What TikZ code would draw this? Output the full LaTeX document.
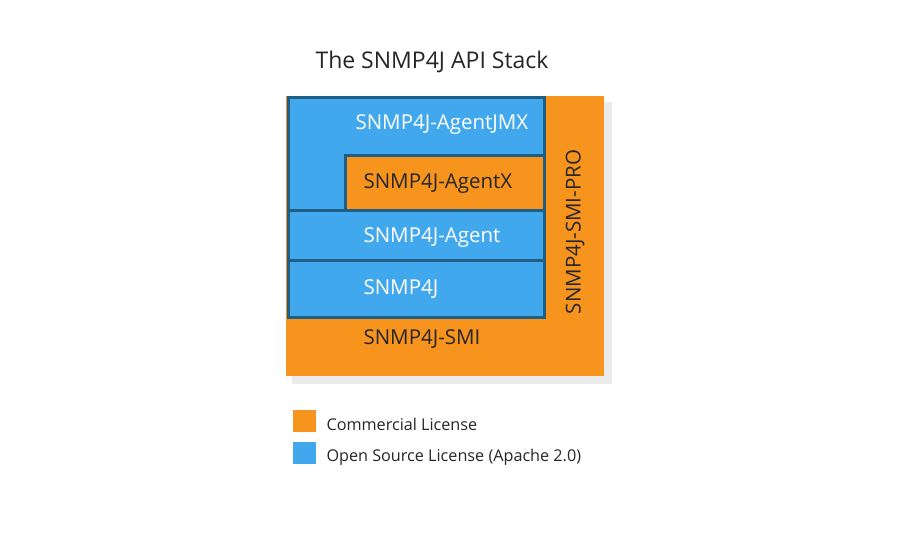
\documentclass[tikz,border=0pt]{standalone}
\usepackage{fontspec}
\setmainfont{Open Sans}
\definecolor{org}{HTML}{F7941D}
\definecolor{blu}{HTML}{42A8EE}
\definecolor{bdr}{HTML}{1F5F85}
\begin{document}
\begin{tikzpicture}[x=1pt,y=-1pt,
  bluebox/.style={fill=blu,draw=bdr,line width=3pt},
  wlab/.style={text=white,font=\fontsize{20.5}{24}\selectfont,anchor=west},
  klab/.style={text=black!85,font=\fontsize{20.5}{24}\selectfont,anchor=west},
  leg/.style={text=black!85,font=\fontsize{16.2}{19}\selectfont,anchor=west}]
\useasboundingbox (0,0) rectangle (900,534);
\fill[white] (0,0) rectangle (900,534);
\node[font=\fontsize{23}{27}\selectfont,text=black!85] (title) at (432,62) {The SNMP4J API Stack};
\fill[black!8] (292,102) rectangle (612,384);
\fill[org] (286,96) rectangle (604,376);
\draw[bluebox] (288,98) -- (544,98) -- (544,211) -- (288,211) -- cycle;
\draw[fill=org,draw=bdr,line width=3pt] (345,156) rectangle (544,211);
\draw[bluebox] (288,211) rectangle (544,261);
\draw[bluebox] (288,261) rectangle (544,318);
\node[wlab] (jmx) at (352,125) {SNMP4J-AgentJMX};
\node[klab] (ax) at (360,184) {SNMP4J-AgentX};
\node[wlab] (ag) at (360,238) {SNMP4J-Agent};
\node[wlab] (s4) at (360,289) {SNMP4J};
\node[klab] (smi) at (360,339) {SNMP4J-SMI};
\node[klab,anchor=center,rotate=90] (pro) at (575,232) {SNMP4J-SMI-PRO};
\fill[org] (293,410) rectangle (316,432);
\fill[blu] (293,442) rectangle (316,464);
\node[leg] (l1) at (323,424) {Commercial License};
\node[leg] (l2) at (323,457) {Open Source License (Apache 2.0)};
\end{tikzpicture}
\end{document}
